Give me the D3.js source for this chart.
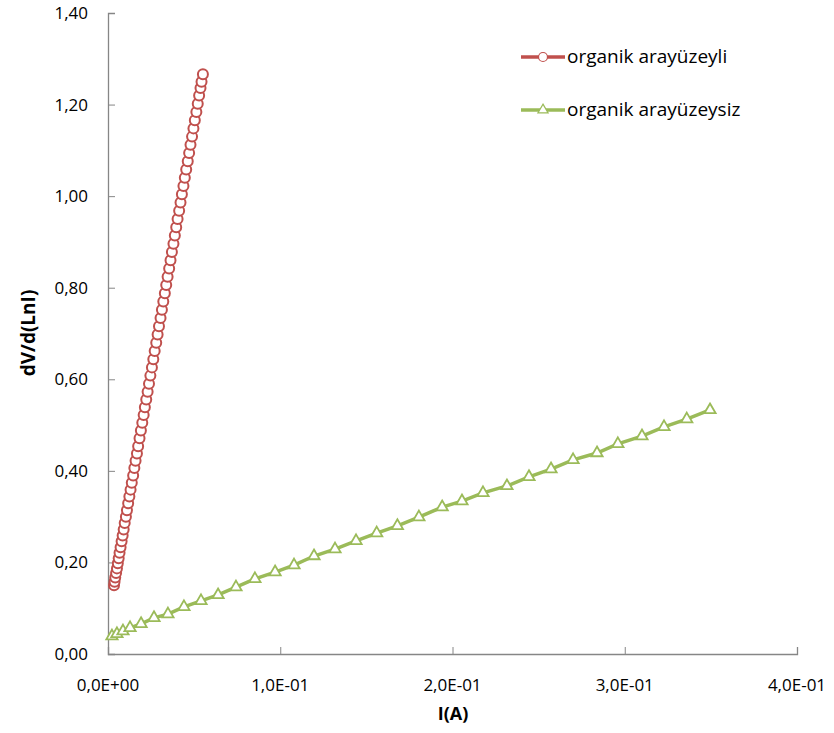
<!DOCTYPE html>
<html>
<head>
<meta charset="utf-8">
<script src="https://cdn.jsdelivr.net/npm/d3@7"></script>
<style>
  body { margin: 0; background: #fff; }
  text { font-family: "Open Sans", Lato, sans-serif; fill: #000; }
</style>
</head>
<body>
<svg id="chart" width="834" height="733"></svg>
<script>
let svg = d3.select("#chart");

//! DATA
let seriesNames = ["organik arayüzeyli", "organik arayüzeysiz"];

let redX = [0.0035, 0.0038, 0.0042, 0.0047, 0.0052, 0.0057, 0.0062, 0.0067, 0.0073, 0.0079,
    0.0085, 0.0091, 0.0097, 0.0104, 0.0110, 0.0117, 0.0124, 0.0131, 0.0138, 0.0146,
    0.0153, 0.0160, 0.0168, 0.0175, 0.0183, 0.0191, 0.0199, 0.0207, 0.0214, 0.0222,
    0.0230, 0.0238, 0.0246, 0.0255, 0.0263, 0.0271, 0.0280, 0.0288, 0.0296, 0.0305,
    0.0313, 0.0321, 0.0330, 0.0338, 0.0346, 0.0355, 0.0363, 0.0371, 0.0380, 0.0388,
    0.0396, 0.0404, 0.0413, 0.0421, 0.0429, 0.0438, 0.0446, 0.0454, 0.0463, 0.0471,
    0.0479, 0.0488, 0.0496, 0.0504, 0.0513, 0.0521, 0.0529, 0.0537, 0.0543, 0.0551];
let redY = [0.150, 0.158, 0.167, 0.177, 0.187, 0.198, 0.209, 0.221, 0.233, 0.246,
    0.259, 0.272, 0.286, 0.300, 0.314, 0.329, 0.344, 0.359, 0.374, 0.390,
    0.406, 0.422, 0.438, 0.454, 0.471, 0.488, 0.505, 0.522, 0.539, 0.556,
    0.573, 0.590, 0.608, 0.626, 0.644, 0.662, 0.680, 0.698, 0.716, 0.734,
    0.752, 0.770, 0.788, 0.806, 0.824, 0.842, 0.860, 0.878, 0.896, 0.914,
    0.932, 0.950, 0.968, 0.986, 1.004, 1.022, 1.040, 1.058, 1.076, 1.094,
    1.112, 1.130, 1.148, 1.166, 1.184, 1.202, 1.220, 1.236, 1.250, 1.266];

let greenX = [0.0023, 0.0052, 0.0087, 0.0128, 0.0192, 0.0267, 0.0348, 0.0441, 0.0540, 0.0639,
    0.0743, 0.0853, 0.0970, 0.1080, 0.1196, 0.1318, 0.1440, 0.1560, 0.1680, 0.1805,
    0.1940, 0.2055, 0.2177, 0.2316, 0.2444, 0.2572, 0.2700, 0.2839, 0.2960, 0.3100,
    0.3228, 0.3360, 0.3495];
let greenY = [0.039, 0.044, 0.050, 0.057, 0.066, 0.079, 0.087, 0.103, 0.116, 0.129,
    0.146, 0.164, 0.179, 0.194, 0.214, 0.229, 0.247, 0.264, 0.280, 0.299,
    0.321, 0.334, 0.352, 0.367, 0.387, 0.404, 0.424, 0.439, 0.459, 0.476,
    0.496, 0.513, 0.533];

let xTicks = [0, 0.1, 0.2, 0.3, 0.4];
let xTickLabels = ["0,0E+00", "1,0E-01", "2,0E-01", "3,0E-01", "4,0E-01"];
let yTicks = [0, 0.2, 0.4, 0.6, 0.8, 1.0, 1.2, 1.4];
let yTickLabels = ["0,00", "0,20", "0,40", "0,60", "0,80", "1,00", "1,20", "1,40"];

let redData = redX.map((x, i) => ({ x: x, y: redY[i] }));
let greenData = greenX.map((x, i) => ({ x: x, y: greenY[i] }));

//? Scales
let x = d3.scaleLinear().domain([0, 0.4]).range([108, 797]);
let y = d3.scaleLinear().domain([0, 1.4]).range([654, 13]);

let axisColor = "#868686";
let red = "#C0504D";
let green = "#9BBB59";

//? Axes
let xAxis = svg.append("g")
    .attr("transform", "translate(0,654)")
    .call(d3.axisTop(x).tickValues(xTicks).tickSize(7).tickFormat(""));
xAxis.select(".domain").attr("stroke", axisColor).attr("stroke-width", 1.3);
xAxis.selectAll("line").attr("stroke", axisColor);

let yAxis = svg.append("g")
    .attr("transform", "translate(108,0)")
    .call(d3.axisRight(y).tickValues(yTicks).tickSize(7).tickFormat(""));
yAxis.select(".domain").attr("stroke", axisColor).attr("stroke-width", 1.3);
yAxis.selectAll("line").attr("stroke", axisColor);

svg.append("g").selectAll("text")
    .data(xTicks)
    .enter()
    .append("text")
    .attr("x", d => x(d))
    .attr("y", 691)
    .attr("text-anchor", "middle")
    .attr("font-size", "17px")
    .text((d, i) => xTickLabels[i]);

svg.append("g").selectAll("text")
    .data(yTicks)
    .enter()
    .append("text")
    .attr("x", 88)
    .attr("y", d => y(d) + 6)
    .attr("text-anchor", "end")
    .attr("font-size", "17px")
    .text((d, i) => yTickLabels[i]);

//? Axis titles
svg.append("text")
    .attr("x", 453)
    .attr("y", 720)
    .attr("text-anchor", "middle")
    .attr("font-size", "18px")
    .attr("font-weight", "bold")
    .text("I(A)");

svg.append("text")
    .attr("transform", "translate(35,333) rotate(-90)")
    .attr("text-anchor", "middle")
    .attr("font-size", "19px")
    .attr("font-weight", "bold")
    .text("dV/d(LnI)");

//? Lines
let line = d3.line().x(d => x(d.x)).y(d => y(d.y));

svg.append("path")
    .datum(greenData)
    .attr("d", line)
    .attr("fill", "none")
    .attr("stroke", green)
    .attr("stroke-width", 3.5);

let triangle = d3.symbol().type(d3.symbolTriangle).size(55);

svg.append("g").selectAll("path")
    .data(greenData)
    .enter()
    .append("path")
    .attr("d", triangle)
    .attr("transform", d => `translate(${x(d.x)},${y(d.y)})`)
    .attr("fill", "#fff")
    .attr("stroke", green)
    .attr("stroke-width", 1.8);

svg.append("path")
    .datum(redData)
    .attr("d", line)
    .attr("fill", "none")
    .attr("stroke", red)
    .attr("stroke-width", 3.5);

svg.append("g").selectAll("circle")
    .data(redData)
    .enter()
    .append("circle")
    .attr("cx", d => x(d.x))
    .attr("cy", d => y(d.y))
    .attr("r", 5)
    .attr("fill", "#fff")
    .attr("stroke", red)
    .attr("stroke-width", 2);

//? Legend
let legend = svg.append("g");
let legendY = [57, 110];
let legendColors = [red, green];

legend.selectAll("line")
    .data(seriesNames)
    .enter()
    .append("line")
    .attr("x1", 521)
    .attr("x2", 565)
    .attr("y1", (d, i) => legendY[i])
    .attr("y2", (d, i) => legendY[i])
    .attr("stroke", (d, i) => legendColors[i])
    .attr("stroke-width", 3.5);

legend.append("circle")
    .attr("cx", 543)
    .attr("cy", legendY[0])
    .attr("r", 4.5)
    .attr("fill", "#fff")
    .attr("stroke", red)
    .attr("stroke-width", 1.2);

legend.append("path")
    .attr("d", d3.symbol().type(d3.symbolTriangle).size(45))
    .attr("transform", `translate(543,${legendY[1]})`)
    .attr("fill", "#fff")
    .attr("stroke", green)
    .attr("stroke-width", 1.2);

legend.selectAll("text")
    .data(seriesNames)
    .enter()
    .append("text")
    .attr("x", 567)
    .attr("y", (d, i) => legendY[i] + 6)
    .attr("font-size", "19px")
    .text(d => d);
</script>
</body>
</html>
